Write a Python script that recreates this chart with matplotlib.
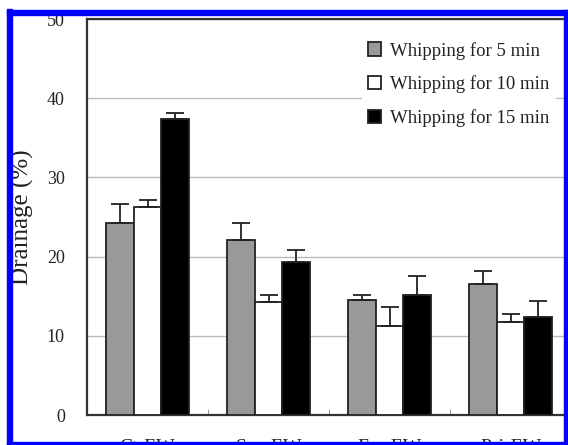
import numpy as np
import matplotlib.pyplot as plt
from matplotlib.patches import Rectangle

plt.rcParams["font.family"] = ["Liberation Serif", "DejaVu Serif"]

# drainage of whipped egg white, mean and upper SD
categories = ["Ct-EW", "Suc-EW", "Fru-EW", "Psi-EW"]
series_names = ["Whipping for 5 min", "Whipping for 10 min", "Whipping for 15 min"]
drain_5 = [24.3, 22.1, 14.5, 16.5]
drain_10 = [26.3, 14.3, 11.2, 11.8]
drain_15 = [37.4, 19.3, 15.1, 12.4]
sd_5 = [2.3, 2.2, 0.7, 1.7]
sd_10 = [0.9, 0.9, 2.4, 1.0]
sd_15 = [0.7, 1.5, 2.4, 2.0]

W, H = 568, 445
fig = plt.figure(figsize=(W / 100, H / 100), dpi=100)
fig.patch.set_facecolor("white")
ax = fig.add_axes([87 / W, (H - 415) / H, (571 - 87) / W, (415 - 19) / H])

x = np.arange(len(categories))
width = 0.226
colors = ["#999999", "white", "black"]
values = [drain_5, drain_10, drain_15]
errors = [sd_5, sd_10, sd_15]
handles = []
for i, (vals, errs, c) in enumerate(zip(values, errors, colors)):
    pos = x + (i - 1) * width
    bars = ax.bar(pos, vals, width, color=c, edgecolor="#222222",
                  linewidth=1.3, zorder=3, label=series_names[i])
    ax.errorbar(pos, vals, yerr=[np.zeros(len(errs)), errs], fmt="none",
                ecolor="#222222", elinewidth=1.3, capsize=6.5, capthick=1.3,
                zorder=4)
    handles.append(bars)

ax.set_xlim(-0.5, 3.5)
ax.set_ylim(0, 50)
ax.set_yticks([0, 10, 20, 30, 40, 50])
ax.yaxis.grid(True, color="#bbbbbb", linewidth=1.0, zorder=0)
ax.set_axisbelow(True)
ax.tick_params(axis="y", length=0, pad=16, labelsize=13, labelcolor="#222222")
ax.set_xticks(x)
ax.set_xticklabels(categories)
ax.tick_params(axis="x", which="major", length=0, pad=17, labelsize=14,
               labelcolor="#222222")
ax.set_xticks([0.5, 1.5, 2.5], minor=True)
ax.tick_params(axis="x", which="minor", direction="in", length=4,
               width=0.8, color="#999999")
for side in ["left", "top", "bottom", "right"]:
    ax.spines[side].set_linewidth(1.6)
    ax.spines[side].set_color("#333333")

ax.set_ylabel("Drainage (%)", fontsize=18, color="#222222", labelpad=9)

leg = ax.legend(handles=handles, loc="upper left",
                bbox_to_anchor=(362 / W, (H - 36) / H),
                bbox_transform=fig.transFigure, frameon=True, fontsize=13.5,
                handlelength=0.7, handleheight=0.7, handletextpad=0.5,
                labelspacing=0.85, borderpad=0.3, borderaxespad=0)
leg.get_frame().set_facecolor("white")
leg.get_frame().set_edgecolor("white")
leg.get_frame().set_alpha(1)
for t in leg.get_texts():
    t.set_color("#222222")

# blue frame around the figure
blue = "#0000ff"
fig.add_artist(Rectangle((7 / W, 0), 5 / W, (H - 9) / H, transform=fig.transFigure,
                         color=blue, zorder=20))
fig.add_artist(Rectangle((7 / W, (H - 15) / H), (W - 7) / W, 5 / H,
                         transform=fig.transFigure, color=blue, zorder=20))
fig.add_artist(Rectangle((564 / W, 0), 4 / W, (H - 10) / H,
                         transform=fig.transFigure, color=blue, zorder=20))
fig.add_artist(Rectangle((7 / W, 0), (W - 7) / W, 3 / H,
                         transform=fig.transFigure, color=blue, zorder=20))

fig.savefig("out.png", dpi=100)
